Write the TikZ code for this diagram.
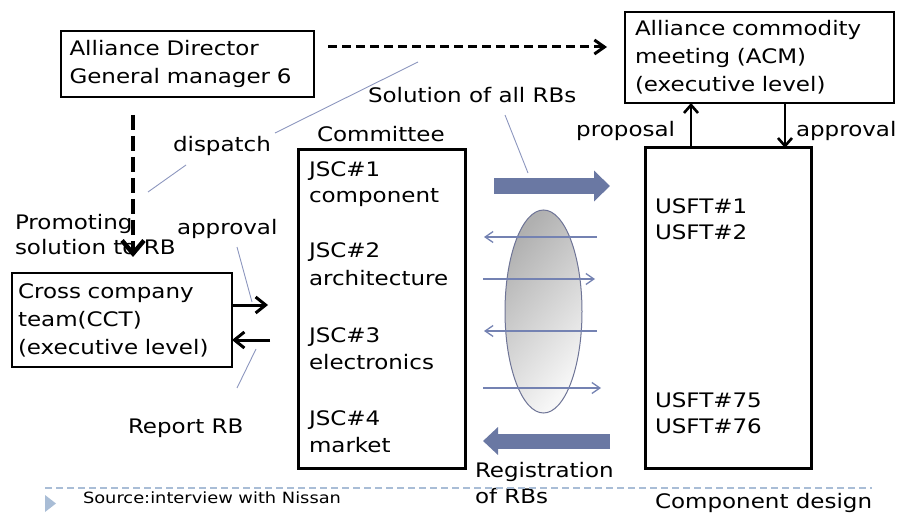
\documentclass[tikz,border=0pt]{standalone}
\usepackage{fontspec}
\setmainfont{DejaVu Sans}[FakeStretch=1.15]
\usetikzlibrary{arrows.meta,shapes.geometric,calc}
\definecolor{blockc}{HTML}{6A78A3}
\definecolor{thinc}{HTML}{7482B2}
\definecolor{callc}{HTML}{8C96BE}
\definecolor{ellb}{HTML}{6E7496}
\definecolor{srcc}{HTML}{A9BDD6}
\begin{document}
\begin{tikzpicture}[x=1pt,y=-1pt,
  every node/.style={inner sep=0pt, outer sep=0pt},
  txt/.style={font=\fontsize{20}{28}\selectfont, anchor=base west},
  box/.style={draw, line width=1.4pt, anchor=north west, align=left, font=\fontsize{20}{28}\selectfont},
  bigbox/.style={draw, line width=3pt, anchor=north west},
  dasharr/.style={line width=3pt, dash pattern=on 9pt off 5pt, -{Straight Barb[length=10pt,width=14pt]}},
  solidarr/.style={line width=2.6pt, -{Straight Barb[length=8pt,width=14pt]}},
  cctarr/.style={line width=3pt, -{Straight Barb[length=10pt,width=16pt]}},
  thinarr/.style={thinc, line width=1.3pt, -{Straight Barb[length=8pt,width=11pt]}},
  callout/.style={callc, line width=0.9pt},
  blockarr/.style={blockc, line width=#1}
]
\useasboundingbox (0,0) rectangle (900,513);

% boxes
\node[box, text width=236pt, inner xsep=8.5pt, minimum height=66pt] (ad) at (61,31) {Alliance Director\\General manager 6};
\node[box, text width=249pt, inner xsep=10pt, minimum height=91pt] (acm) at (625,12) {Alliance commodity\\meeting (ACM)\\(executive level)};
\node[box, text width=208pt, inner xsep=6pt, minimum height=94pt] (cct) at (12,273) {Cross company\\team(CCT)\\(executive level)};
\node[bigbox, minimum width=167pt, minimum height=318pt] (com) at (298,150) {};
\node[bigbox, minimum width=166pt, minimum height=320pt] (usft) at (645,148) {};

% committee texts
\node[txt] (comlbl) at (317,142) {Committee};
\node[txt] (j1) at (309,177) {JSC\#1};
\node[txt] (j1b) at (309,203) {component};
\node[txt] (j2) at (309,258) {JSC\#2};
\node[txt] (j2b) at (309,286) {architecture};
\node[txt] (j3) at (309,342) {JSC\#3};
\node[txt] (j3b) at (309,369) {electronics};
\node[txt] (j4) at (309,425) {JSC\#4};
\node[txt] (j4b) at (309,452) {market};

% usft texts
\node[txt] (u1) at (655,214) {USFT\#1};
\node[txt] (u2) at (655,240) {USFT\#2};
\node[txt] (u75) at (655,407) {USFT\#75};
\node[txt] (u76) at (655,433) {USFT\#76};
\node[txt] (cd) at (655,508) {Component design};

% labels
\node[txt] (solall) at (368,103) {Solution of all RBs};
\node[txt] (disp) at (173,152) {dispatch};
\node[txt, anchor=base east] (prop) at (675,137) {proposal};
\node[txt] (apprR) at (796,137) {approval};
\node[txt] (apprL) at (177,235) {approval};
\node[txt] (promo1) at (15,230) {Promoting};
\node[txt] (promo2) at (15,255) {solution to RB};
\node[txt] (report) at (128,433) {Report RB};
\node[txt] (reg1) at (475,477) {Registration};
\node[txt] (reg2) at (475,503) {of RBs};
\node[anchor=base west, font=\fontsize{15.5}{18}\selectfont] (src) at (83,503) {Source:interview with Nissan};

% dashed arrows
\coordinate (dh1) at (328,47);
\coordinate (dh2) at (607,47);
\draw[dasharr] (dh1) -- (dh2);
\coordinate (dv1) at (133,115);
\coordinate (dv2) at (133,257);
\draw[line width=4.5pt, dash pattern=on 15pt off 6pt, -{Straight Barb[length=13pt,width=22pt]}] (dv1) -- (dv2);

% proposal / approval
\draw[solidarr] ([xshift=46pt]usft.north west) -- ([xshift=46pt]usft.north west |- acm.south);
\draw[solidarr] ([xshift=140pt]usft.north west |- acm.south) -- ([xshift=140pt]usft.north west);

% CCT arrows
\coordinate (cr) at (268,305);
\coordinate (cl) at (270,340);
\draw[cctarr] (cct.east |- cr) -- (cr);
\draw[cctarr] (cl) -- (cct.east |- cl);

% ellipse
\node[ellipse, draw=ellb, line width=1pt, minimum width=77pt, minimum height=203pt,
  top color=gray!62, bottom color=gray!6, shading angle=50] (ell) at (543.5,311.5) {};

% thin arrows
\coordinate (t1a) at (597,237); \coordinate (t1b) at (484,237);
\coordinate (t2a) at (483,279); \coordinate (t2b) at (595,279);
\coordinate (t3a) at (597,331); \coordinate (t3b) at (484,331);
\coordinate (t4a) at (483,388); \coordinate (t4b) at (601,388);
\draw[thinarr] (t1a) -- (t1b);
\draw[thinarr] (t2a) -- (t2b);
\draw[thinarr] (t3a) -- (t3b);
\draw[thinarr] (t4a) -- (t4b);

% block arrows
\coordinate (b1a) at (494,186); \coordinate (b1b) at (610,186);
\coordinate (b2a) at (610,441); \coordinate (b2b) at (483,441);
\draw[blockarr=16pt, -{Triangle[length=16pt,width=30pt]}] (b1a) -- (b1b);
\draw[blockarr=15pt, -{Triangle[length=15pt,width=27pt]}] (b2a) -- (b2b);

% callout lines
\coordinate (c1a) at (418,62); \coordinate (c1b) at (275,133);
\coordinate (c2a) at (186,165); \coordinate (c2b) at (148,192);
\coordinate (c3a) at (505,115); \coordinate (c3b) at (528,173);
\coordinate (c4a) at (237,247); \coordinate (c4b) at (252,302);
\coordinate (c5a) at (256,349); \coordinate (c5b) at (237,388);
\draw[callout] (c1a) -- (c1b);
\draw[callout] (c2a) -- (c2b);
\draw[callout] (c3a) -- (c3b);
\draw[callout] (c4a) -- (c4b);
\draw[callout] (c5a) -- (c5b);

% source line
\coordinate (s1) at (45,488); \coordinate (s2) at (872,488);
\draw[srcc, line width=1.2pt, dash pattern=on 7pt off 4pt] (s1) -- (s2);
\fill[srcc] (45,495) -- (56,503.5) -- (45,512) -- cycle;
\end{tikzpicture}
\end{document}
